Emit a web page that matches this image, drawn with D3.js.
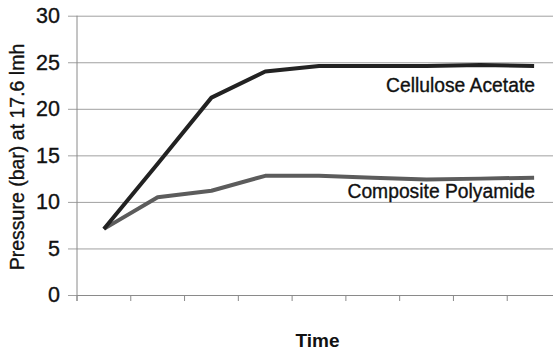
<!DOCTYPE html>
<html>
<head>
<meta charset="utf-8">
<script src="https://cdn.jsdelivr.net/npm/d3@7/dist/d3.min.js"></script>
<style>
  html, body { margin: 0; padding: 0; background: #fff; }
  svg { display: block; font-family: "Liberation Sans", Arial, sans-serif; }
  text { stroke: #111; stroke-width: 0.35px; }
</style>
</head>
<body>
<svg id="chart" width="553" height="351"></svg>
<script>
// Time points (unlabelled on the axis) and pressure readings per membrane
const timePoints = [1, 2, 3, 4, 5, 6, 7, 8, 9];
const celluloseAcetate = [7.1, 14.1, 21.2, 24.0, 24.6, 24.6, 24.6, 24.7, 24.6];
const compositePolyamide = [7.1, 10.5, 11.2, 12.8, 12.8, 12.6, 12.4, 12.5, 12.6];
const yTicks = [0, 5, 10, 15, 20, 25, 30];
const seriesNames = ["Cellulose Acetate", "Composite Polyamide"];

const svg = d3.select("#chart");
const plotLeft = 77, plotRight = 561, plotTop = 15.7, plotBottom = 295;

const x = d3.scaleBand().domain(timePoints).range([plotLeft, plotRight]);
const y = d3.scaleLinear().domain([0, 30]).range([plotBottom, plotTop]);

// horizontal gridlines with short ticks left of the axis
svg.append("g")
  .attr("transform", `translate(${plotLeft},0)`)
  .call(d3.axisLeft(y).tickValues(yTicks).tickSize(-(plotRight - plotLeft)).tickSizeOuter(0).tickPadding(17))
  .call(g => g.select(".domain").remove())
  .call(g => g.selectAll(".tick line").attr("stroke", "#a0a0a0").attr("x1", -9))
  .call(g => g.selectAll(".tick text").attr("font-size", 21.5).attr("fill", "#111"));

// x axis baseline and category ticks
svg.append("g")
  .attr("transform", `translate(0,${plotBottom})`)
  .call(d3.axisBottom(x).tickValues([]).tickSizeOuter(0))
  .call(g => g.select(".domain").attr("stroke", "#8a8a8a"));
svg.append("g").selectAll("line")
  .data(timePoints.concat([null]))
  .join("line")
  .attr("x1", (d, i) => plotLeft + i * x.step())
  .attr("x2", (d, i) => plotLeft + i * x.step())
  .attr("y1", plotBottom).attr("y2", plotBottom + 6)
  .attr("stroke", "#8a8a8a");

// vertical axis line
svg.append("line")
  .attr("x1", plotLeft).attr("x2", plotLeft)
  .attr("y1", plotTop).attr("y2", plotBottom + 6)
  .attr("stroke", "#8a8a8a");

const line = d3.line()
  .x((d, i) => x(timePoints[i]) + x.bandwidth() / 2)
  .y(d => y(d));

svg.append("path")
  .datum(compositePolyamide)
  .attr("d", line)
  .attr("fill", "none")
  .attr("stroke", "#5c5c5c")
  .attr("stroke-width", 4)
  .attr("stroke-linejoin", "round");

svg.append("path")
  .datum(celluloseAcetate)
  .attr("d", line)
  .attr("fill", "none")
  .attr("stroke", "#222")
  .attr("stroke-width", 4)
  .attr("stroke-linejoin", "round");

// series labels
svg.append("text")
  .attr("x", 535).attr("y", 92)
  .attr("text-anchor", "end").attr("font-size", 19.3).attr("fill", "#111")
  .text(seriesNames[0]);
svg.append("text")
  .attr("x", 535).attr("y", 197.5)
  .attr("text-anchor", "end").attr("font-size", 19.3).attr("fill", "#111")
  .text(seriesNames[1]);

// axis titles
svg.append("text")
  .attr("transform", "translate(24,157) rotate(-90)")
  .attr("text-anchor", "middle").attr("font-size", 19.5).attr("fill", "#111")
  .text("Pressure (bar) at 17.6 lmh");
svg.append("text")
  .attr("x", 317.5).attr("y", 346.5)
  .attr("text-anchor", "middle").attr("font-size", 19).attr("font-weight", "bold").attr("fill", "#111")
  .style("stroke-width", 0)
  .text("Time");
</script>
</body>
</html>
